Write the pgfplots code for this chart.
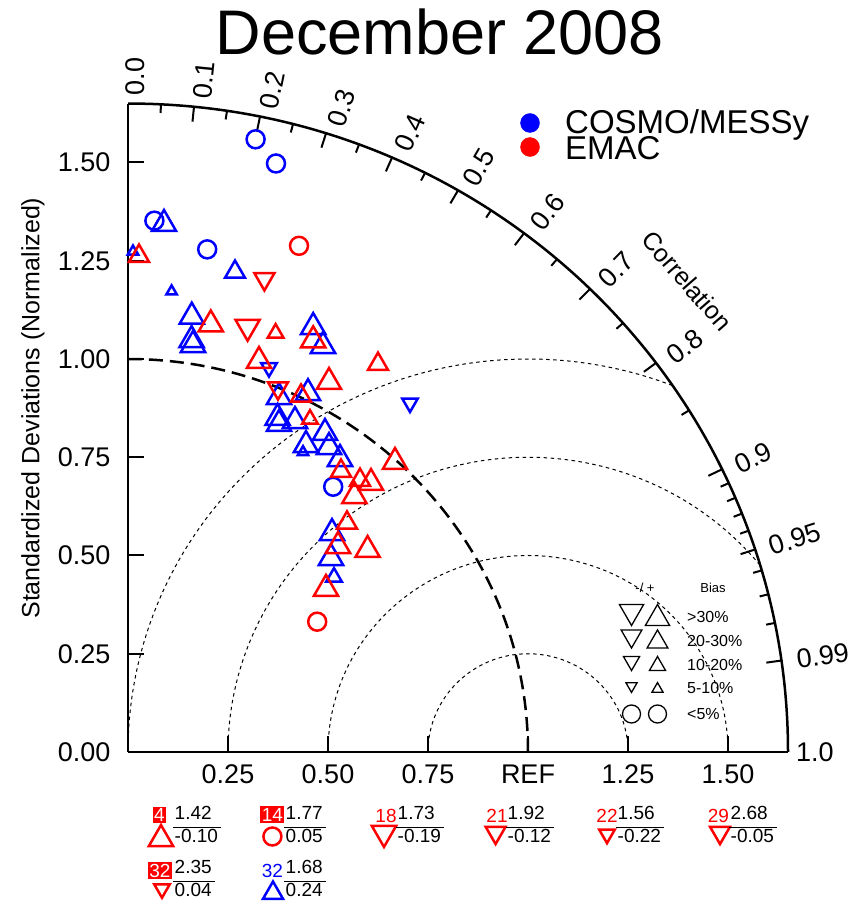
\documentclass[border=0pt]{standalone}
\usepackage{pgfplots}
\pgfplotsset{compat=1.18}
\usepackage{fontspec}
\setmainfont{Liberation Sans}
\definecolor{cblue}{RGB}{0,0,255}
\definecolor{cred}{RGB}{255,0,0}
\newcommand\ftitle{\fontsize{63}{70}\selectfont}
\newcommand\fleg{\fontsize{33}{38}\selectfont}
\newcommand\ftick{\fontsize{27}{31}\selectfont}
\newcommand\flab{\fontsize{25}{30}\selectfont}
\newcommand\fbias{\fontsize{16}{19}\selectfont}
\newcommand\fsmall{\fontsize{13}{15}\selectfont}
\newcommand\fann{\fontsize{19}{22}\selectfont}
\newcommand\frc[2]{\setlength\arrayrulewidth{0.8pt}\begin{tabular}{@{\hspace{1.5pt}}l@{\hspace{3pt}}}#1\\\hline #2\end{tabular}}
\pgfplotsset{
  up/.style={only marks, mark=triangle, mark size=#1},
  dn/.style={only marks, mark=triangle, mark size=#1, mark options={rotate=180}},
  ci/.style={only marks, mark=o, mark size=#1},
}
\begin{document}
\begin{tikzpicture}
% ---------- background grid: RMS arcs and reference arc ----------
\begin{scope}[x=400pt,y=393pt]
  \tikzset{rms/.style={line width=1pt, dash pattern=on 3.5pt off 3.5pt}}
  \draw[rms] (1.25,0) arc[start angle=0,end angle=180,radius=0.25];
  \draw[rms] (1.5,0) arc[start angle=0,end angle=180,radius=0.5];
  \draw[rms] ({1+0.75*cos(39.35)},{0.75*sin(39.35)}) arc[start angle=39.35,end angle=180,radius=0.75];
  \draw[rms] ({1+cos(68.84)},{sin(68.84)}) arc[start angle=68.84,end angle=180,radius=1];
  \draw[line width=2.5pt, dash pattern=on 14pt off 7pt] (1,0) arc[start angle=0,end angle=90,radius=1];
  % outer correlation arc
  \draw[line width=2.5pt] (1.65,0) arc[start angle=0,end angle=90,radius=1.65];
  \foreach \c/\l in {0/0.0,0.1/0.1,0.2/0.2,0.3/0.3,0.4/0.4,0.5/0.5,0.6/0.6,0.7/0.7,0.8/0.8,0.9/0.9,0.95/0.95,0.99/0.99}{
    \pgfmathsetmacro\s{sqrt(1-\c*\c)}
    \pgfmathsetmacro\a{acos(\c)}
    \draw[line width=2pt] ({1.65*\c},{1.65*\s}) -- ({1.612*\c},{1.612*\s});
    \node[anchor=west, rotate=\a, font=\ftick, inner sep=2pt] at ({1.665*\c+0.018},{1.665*\s}) {\l};
  }
  \node[anchor=west, font=\ftick, inner sep=2pt] at (1.665,0) {1.0};
  \foreach \c in {0.05,0.15,0.25,0.35,0.45,0.55,0.65,0.75,0.85,0.91,0.92,0.93,0.94,0.96,0.97,0.98}{
    \pgfmathsetmacro\s{sqrt(1-\c*\c)}
    \draw[line width=2pt] ({1.65*\c},{1.65*\s}) -- ({1.628*\c},{1.628*\s});
  }
\end{scope}

\begin{axis}[
  at={(0pt,0pt)}, anchor=south west,
  x=400pt, y=393pt,
  xmin=0, xmax=1.65, ymin=0, ymax=1.65,
  axis lines=left, axis line style={line width=2pt, -},
  clip=false,
  /pgf/number format/assume math mode=true,
  xtick={0.25,0.5,0.75,1,1.25,1.5},
  xticklabels={0.25,0.50,0.75,REF,1.25,1.50},
  ytick={0,0.25,0.5,0.75,1,1.25,1.5},
  yticklabels={0.00,0.25,0.50,0.75,1.00,1.25,1.50},
  tick align=inside, major tick length=16pt,
  tick style={line width=2pt, black},
  xticklabel style={font=\ftick, yshift=-9pt},
  yticklabel style={font=\ftick, xshift=-14pt},
]
% ---------------- COSMO/MESSy (blue) ----------------
\addplot[cblue, line width=2.5pt, ci=9pt] coordinates {
 (0.319,1.559) (0.370,1.4975) (0.066,1.352) (0.198,1.279) (0.513,0.675)};
\addplot[cblue, line width=2.5pt, up=14pt] coordinates {
 (0.090,1.3435) (0.1595,1.1077) (0.159,1.048) (0.1625,1.0356)
 (0.463,1.0814) (0.4875,1.033) (0.3775,0.903) (0.45,0.913)
 (0.374,0.850) (0.3775,0.8346) (0.4175,0.842) (0.4925,0.8117)
 (0.445,0.781) (0.5025,0.776) (0.53,0.7455) (0.51,0.557) (0.5075,0.4936)};
\addplot[cblue, line width=2.5pt, up=11.5pt] coordinates {(0.2675,1.2214)};
\addplot[cblue, line width=2.5pt, up=9pt] coordinates {(0.515,0.445)};
\addplot[cblue, line width=2.5pt, up=6pt] coordinates {(0.0125,1.2735) (0.109,1.172) (0.4375,0.763)};
\addplot[cblue, line width=2.5pt, dn=9pt] coordinates {(0.3525,0.978) (0.705,0.888)};
% ---------------- EMAC (red) ----------------
\addplot[cred, line width=2.5pt, ci=9pt] coordinates {(0.4275,1.288) (0.473,0.3316)};
\addplot[cred, line width=2.5pt, up=14pt] coordinates {
 (0.207,1.088) (0.463,1.0476) (0.3275,0.995) (0.5025,0.9415) (0.6675,0.738)
 (0.6075,0.6845) (0.566,0.651) (0.525,0.524) (0.599,0.514) (0.495,0.415)};
\addplot[cred, line width=2.5pt, up=11.5pt] coordinates {
 (0.0275,1.262) (0.625,0.987) (0.4325,0.906) (0.5325,0.715) (0.58,0.692) (0.5475,0.583)};
\addplot[cred, line width=2.5pt, up=9pt] coordinates {(0.369,1.066) (0.455,0.847)};
\addplot[cred, line width=2.5pt, dn=11.5pt] coordinates {(0.341,1.2036) (0.375,0.926)};
\addplot[cred, line width=2.5pt, dn=14pt] coordinates {(0.299,1.082)};
% ---------------- out-of-range cases (below the diagram) ----------------
\addplot[cred, line width=2.5pt, up=14pt] coordinates {(0.0825,-0.2214)};
\addplot[cred, line width=2.5pt, ci=9pt] coordinates {(0.361,-0.215)};
\addplot[cred, line width=2.5pt, dn=14pt] coordinates {(0.64,-0.206)};
\addplot[cred, line width=2.5pt, dn=11.5pt] coordinates {(0.919,-0.205) (1.48,-0.205)};
\addplot[cred, line width=2.5pt, dn=9pt] coordinates {(1.1975,-0.209) (0.085,-0.348)};
\addplot[cblue, line width=2.5pt, up=11.5pt] coordinates {(0.3625,-0.3588)};
% ---------------- legends ----------------
\addplot[cblue, only marks, mark=*, mark size=9.5pt] coordinates {(1.005,1.6005)};
\addplot[cred, only marks, mark=*, mark size=9.5pt] coordinates {(1.005,1.5394)};
\addplot[black, line width=1.3pt, dn=14pt] coordinates {(1.2588,0.3575)};
\addplot[black, line width=1.3pt, dn=12pt] coordinates {(1.2588,0.2952)};
\addplot[black, line width=1.3pt, dn=9.3pt] coordinates {(1.2588,0.2310)};
\addplot[black, line width=1.3pt, dn=6.4pt] coordinates {(1.2588,0.1679)};
\addplot[black, line width=1.3pt, up=14pt] coordinates {(1.32375,0.3397)};
\addplot[black, line width=1.3pt, up=12pt] coordinates {(1.32375,0.2799)};
\addplot[black, line width=1.3pt, up=9.3pt] coordinates {(1.32375,0.2193)};
\addplot[black, line width=1.3pt, up=6.4pt] coordinates {(1.32375,0.1603)};
\addplot[black, line width=1.3pt, ci=9pt] coordinates {(1.2588,0.0967) (1.32375,0.0967)};
\end{axis}

% ---------- texts ----------
\begin{scope}[x=400pt,y=393pt]
  \node[anchor=base, font=\ftitle, inner sep=0] at (0.78,1.776) {December 2008};
  \node[anchor=base west, font=\fleg, inner sep=0] at (1.0925,1.575) {COSMO/MESSy};
  \node[anchor=base west, font=\fleg, inner sep=0] at (1.0925,1.5064) {EMAC};
  \node[rotate=90, font=\flab] at (-0.2375,0.875) {Standardized Deviations (Normalized)};
  \node[rotate=-49, font=\flab] at (1.3975,1.1985) {Correlation};
  % bias legend
  \node[font=\fsmall] at (1.4625,0.4173) {Bias};
  \node[font=\fsmall] at (1.2925,0.4173) {-/ +};
  \node[anchor=west, font=\fbias, inner sep=0] at (1.3975,0.3443) {>30\%};
  \node[anchor=west, font=\fbias, inner sep=0] at (1.3975,0.2832) {20-30\%};
  \node[anchor=west, font=\fbias, inner sep=0] at (1.3975,0.2214) {10-20\%};
  \node[anchor=west, font=\fbias, inner sep=0] at (1.3975,0.1628) {5-10\%};
  \node[anchor=west, font=\fbias, inner sep=0] at (1.3975,0.0967) {<5\%};
  % out-of-range annotations
  \node[fill=cred, text=white, inner sep=1.5pt, font=\fann] at (0.0788,-0.1603) {4};
  \node[fill=cred, text=white, inner sep=1.5pt, font=\fann] at (0.361,-0.159) {14};
  \node[fill=cred, text=white, inner sep=1.5pt, font=\fann] at (0.08,-0.3015) {32};
  \node[text=cred, inner sep=0, font=\fann] at (0.645,-0.1616) {18};
  \node[text=cred, inner sep=0, font=\fann] at (0.9225,-0.1616) {21};
  \node[text=cred, inner sep=0, font=\fann] at (1.1975,-0.1616) {22};
  \node[text=cred, inner sep=0, font=\fann] at (1.476,-0.1616) {29};
  \node[text=cblue, inner sep=0, font=\fann] at (0.361,-0.3015) {32};
  \node[anchor=west, inner sep=0, font=\fann] at (0.1125,-0.1908) {\frc{1.42}{-0.10}};
  \node[anchor=west, inner sep=0, font=\fann] at (0.39,-0.1908) {\frc{1.77}{0.05}};
  \node[anchor=west, inner sep=0, font=\fann] at (0.67,-0.1908) {\frc{1.73}{-0.19}};
  \node[anchor=west, inner sep=0, font=\fann] at (0.945,-0.1908) {\frc{1.92}{-0.12}};
  \node[anchor=west, inner sep=0, font=\fann] at (1.22,-0.1908) {\frc{1.56}{-0.22}};
  \node[anchor=west, inner sep=0, font=\fann] at (1.5025,-0.1908) {\frc{2.68}{-0.05}};
  \node[anchor=west, inner sep=0, font=\fann] at (0.1125,-0.328) {\frc{2.35}{0.04}};
  \node[anchor=west, inner sep=0, font=\fann] at (0.39,-0.328) {\frc{1.68}{0.24}};
\end{scope}
\pgfresetboundingbox
\path[use as bounding box] (-128pt,-152pt) rectangle (722pt,752pt);
\end{tikzpicture}
\end{document}
